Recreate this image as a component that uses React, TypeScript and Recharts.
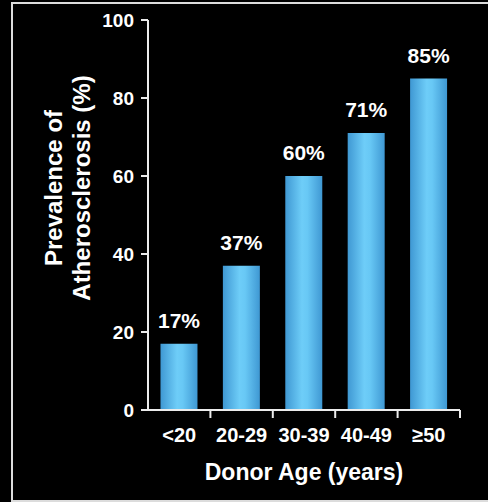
import React from "react";
import { BarChart, Bar, XAxis, YAxis, LabelList } from "recharts";

const ageGroups = ["<20", "20-29", "30-39", "40-49", "≥50"];
const prevalence = [17, 37, 60, 71, 85];
const yTicks = [0, 20, 40, 60, 80, 100];

const data = ageGroups.map((age, i) => ({ age, value: prevalence[i] }));

const W = 488;
const H = 502;
const margin = { top: 20, right: 28, bottom: 0, left: 0 };
const yAxisWidth = 148;
const xAxisHeight = 92;
const band = (W - margin.left - margin.right - yAxisWidth) / ageGroups.length;

const font = "Arial, 'Liberation Sans', sans-serif";
const axisColor = "#ececec";

function AgeTick(props: any) {
     const { x, y, payload, index } = props;
     const left = x - band / 2;
     const right = x + band / 2;
     return (
          <g>
               {index > 0 && <line x1={left} x2={left} y1={y} y2={y + 8} stroke={axisColor} strokeWidth={2} />}
               {index === ageGroups.length - 1 && (
                    <line x1={right} x2={right} y1={y} y2={y + 8} stroke={axisColor} strokeWidth={2} />
               )}
               <text x={x} y={y + 32} textAnchor="middle" fill="#fff" fontSize={20} fontWeight="bold" fontFamily={font}>
                    {payload.value}
               </text>
          </g>
     );
}

function YTitle() {
     return (
          <g fill="#fff" fontSize={24} fontWeight="bold" fontFamily={font} textAnchor="middle">
               <text x={0} y={0} transform="translate(62 188) rotate(-90)">Prevalence of</text>
               <text x={0} y={0} transform="translate(90 188) rotate(-90)">Atherosclerosis (%)</text>
          </g>
     );
}

export default function App() {
     return (
          <div style={{ position: "absolute", left: 0, top: 0, width: W, height: H, background: "#000", overflow: "hidden" }}>
               <div
                    style={{
                         position: "absolute",
                         left: 11,
                         top: 2,
                         width: 490,
                         height: 496,
                         border: "2px solid #dcdcdc",
                    }}
               />
               <div style={{ position: "absolute", left: 0, top: 0 }}>
                    <BarChart width={W} height={H} data={data} margin={margin} barCategoryGap="20%">
                         <defs>
                              <linearGradient id="barFill" x1="0" y1="0" x2="1" y2="0">
                                   <stop offset="0%" stopColor="#3f98d3" />
                                   <stop offset="45%" stopColor="#6ecdf8" />
                                   <stop offset="60%" stopColor="#68c8f5" />
                                   <stop offset="100%" stopColor="#3f98d3" />
                              </linearGradient>
                         </defs>
                         <XAxis
                              dataKey="age"
                              height={xAxisHeight}
                              axisLine={{ stroke: axisColor, strokeWidth: 2 }}
                              tickLine={false}
                              tickSize={0}
                              tickMargin={0}
                              interval={0}
                              tick={<AgeTick />}
                              label={{
                                   value: "Donor Age (years)",
                                   position: "insideBottom",
                                   offset: 22,
                                   fill: "#fff",
                                   fontSize: 23,
                                   fontWeight: "bold",
                                   fontFamily: font,
                              }}
                         />
                         <YAxis
                              width={yAxisWidth}
                              domain={[0, 100]}
                              ticks={yTicks}
                              interval={0}
                              axisLine={{ stroke: axisColor, strokeWidth: 2 }}
                              tickLine={{ stroke: axisColor, strokeWidth: 2 }}
                              tickSize={7}
                              tickMargin={7}
                              tick={{ fill: "#fff", fontSize: 19, fontWeight: "bold", fontFamily: font }}
                              label={{ content: () => <YTitle /> }}
                         />
                         <Bar dataKey="value" fill="url(#barFill)" isAnimationActive={false}>
                              <LabelList
                                   dataKey="value"
                                   position="top"
                                   offset={16}
                                   formatter={(v: any) => `${v}%`}
                                   fill="#fff"
                                   fontSize={21}
                                   fontWeight="bold"
                                   fontFamily={font}
                              />
                         </Bar>
                    </BarChart>
               </div>
          </div>
     );
}
